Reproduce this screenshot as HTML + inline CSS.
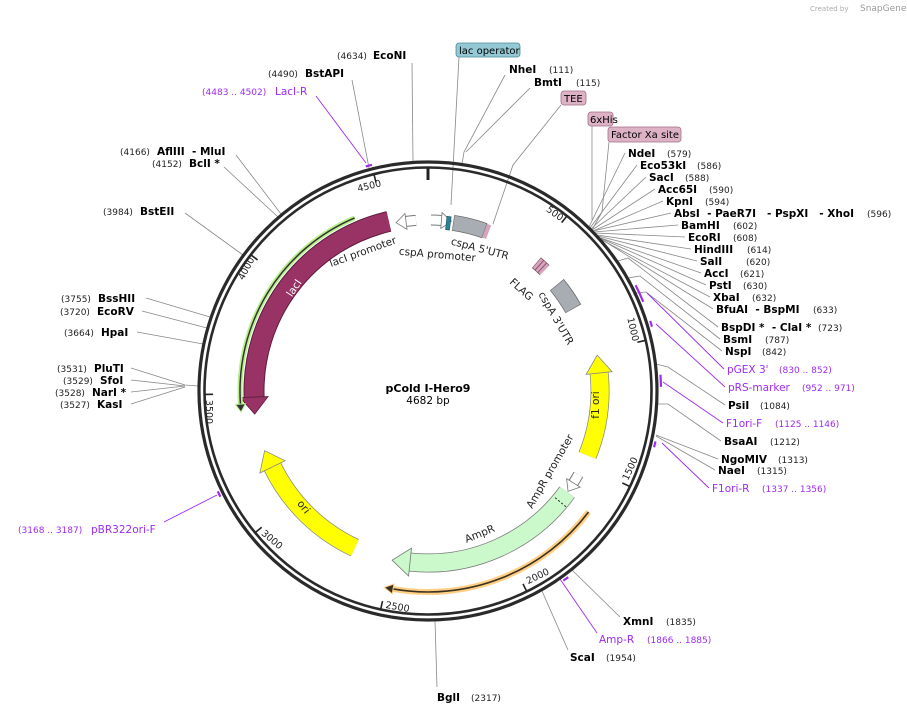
<!DOCTYPE html>
<html><head><meta charset="utf-8"><style>
html,body{margin:0;padding:0;background:#fff;}
svg{display:block;}
text{font-family:"DejaVu Sans","Liberation Sans",sans-serif;}
.n{font-size:10.5px;font-weight:bold;fill:#000;}
.p{font-size:9px;fill:#222;}
.pu{font-size:10.5px;fill:#9d2bf0;}
.pp{font-size:9px;fill:#9d2bf0;}
.l{stroke:#888;stroke-width:0.8;fill:none;}
.lp{stroke:#9d2bf0;stroke-width:0.9;fill:none;}
.f{font-size:10.5px;fill:#222;}
.t{font-size:9.5px;fill:#222;}
</style></head><body>
<svg width="907" height="714" viewBox="0 0 907 714" xmlns="http://www.w3.org/2000/svg">
<text x="810" y="11" style="font-size:7px;fill:#aaa">Created by</text>
<text x="860" y="11" style="font-size:9px;fill:#999">SnapGene</text>

<g class="l">
<polyline points="412,63 413,161"/>
<polyline points="352,80 369,168"/>
<polyline points="236,155 281,214"/>
<polyline points="224,167 278,217"/>
<polyline points="185,213 243,255"/>
<polyline points="146,298 210,317"/>
<polyline points="142,311 207,328"/>
<polyline points="137,332 203,344"/>
<polyline points="131,368 185,385 198,386"/>
<polyline points="131,380 185,386"/>
<polyline points="131,392 185,386"/>
<polyline points="131,404 185,387"/>
<polyline points="459,57 451,205"/>
<polyline points="505,75 464,152 462,164"/>
<polyline points="530,88 466,152"/>
<polyline points="561,105 513,165 493,224"/>
<polyline points="592,126 592,220"/>
<polyline points="609,142 602,212 592,230"/>
<polyline points="625,153 589,227"/>
<polyline points="637,165 590,228"/>
<polyline points="646,177 591,229"/>
<polyline points="655,189 592,230"/>
<polyline points="663,201 593,231"/>
<polyline points="671,213 593,231"/>
<polyline points="678,225 594,232"/>
<polyline points="685,237 595,233"/>
<polyline points="691,249 597,235"/>
<polyline points="697,261 598,236"/>
<polyline points="701,273 598,237"/>
<polyline points="706,285 600,238"/>
<polyline points="710,297 600,239"/>
<polyline points="713,309 601,239"/>
<polyline points="718,327 628,258 618,261"/>
<polyline points="720,339 640,276 628,278"/>
<polyline points="722,351 646,292 636,293"/>
<polyline points="725,405 668,367 656,364"/>
<polyline points="721,441 668,404 658,404"/>
<polyline points="718,459 656,435"/>
<polyline points="715,470 656,436"/>
<polyline points="620,617 572,570"/>
<polyline points="568,650 542,591"/>
<polyline points="437,687 435,621"/>
</g>
<g class="lp">
<polyline points="316,96 366,163"/>
<polyline points="724,369 647,293"/>
<polyline points="725,387 656,324"/>
<polyline points="723,423 663,382"/>
<polyline points="709,488 662,443"/>
<polyline points="597,633 560,579"/>
<polyline points="164,522 217,495"/>
</g>

<circle cx="428" cy="391" r="229" fill="none" stroke="#2a2a2a" stroke-width="3.2"/>
<circle cx="428" cy="391" r="223.5" fill="none" stroke="#2a2a2a" stroke-width="2.6"/>
<line x1="428" y1="168" x2="428" y2="180" stroke="#222" stroke-width="3"/>
<g stroke="#222" stroke-width="1.6">
<line x1="428" y1="168" x2="428" y2="176" transform="rotate(38.44 428 391)"/>
<line x1="428" y1="168" x2="428" y2="176" transform="rotate(76.89 428 391)"/>
<line x1="428" y1="168" x2="428" y2="176" transform="rotate(115.33 428 391)"/>
<line x1="428" y1="168" x2="428" y2="176" transform="rotate(153.78 428 391)"/>
<line x1="428" y1="168" x2="428" y2="176" transform="rotate(192.22 428 391)"/>
<line x1="428" y1="168" x2="428" y2="176" transform="rotate(230.67 428 391)"/>
<line x1="428" y1="168" x2="428" y2="176" transform="rotate(269.11 428 391)"/>
<line x1="428" y1="168" x2="428" y2="176" transform="rotate(307.56 428 391)"/>
<line x1="428" y1="168" x2="428" y2="176" transform="rotate(346 428 391)"/>
</g>
<g class="t" text-anchor="middle">
<text transform="translate(553,216) rotate(36)">500</text>
<text transform="translate(630,330) rotate(77)">1000</text>
<text transform="translate(633,470) rotate(-65)">1500</text>
<text transform="translate(539,579) rotate(-26)">2000</text>
<text transform="translate(397,610) rotate(10)">2500</text>
<text transform="translate(270,542) rotate(40)">3000</text>
<text transform="translate(206,412) rotate(90)">3500</text>
<text transform="translate(249,270) rotate(-62)">4000</text>
<text transform="translate(370,189) rotate(-14)">4500</text>
</g>

<g fill="none" stroke="#9d2bf0" stroke-width="2.2">
<circle cx="428" cy="391" r="233" pathLength="360" stroke-dasharray="1.6 400" transform="rotate(254.5 428 391)"/>
<circle cx="428" cy="391" r="233" pathLength="360" stroke-dasharray="4.5 400" transform="rotate(-27 428 391)"/>
<circle cx="428" cy="391" r="233" pathLength="360" stroke-dasharray="1.5 400" transform="rotate(-17.5 428 391)"/>
<circle cx="428" cy="391" r="233" pathLength="360" stroke-dasharray="3 400" transform="rotate(-4 428 391)"/>
<circle cx="428" cy="391" r="233" pathLength="360" stroke-dasharray="1.5 400" transform="rotate(12.5 428 391)"/>
<circle cx="428" cy="391" r="233" pathLength="360" stroke-dasharray="1.5 400" transform="rotate(53 428 391)"/>
<circle cx="428" cy="391" r="233" pathLength="360" stroke-dasharray="1.5 400" transform="rotate(153 428 391)"/>
</g>

<circle cx="428" cy="391" r="174" fill="none" stroke="#5a1c3a" stroke-width="21" pathLength="360" stroke-dasharray="79 400" transform="rotate(178 428 391)"/>
<circle cx="428" cy="391" r="174" fill="none" stroke="#993366" stroke-width="19" pathLength="360" stroke-dasharray="79 400" transform="rotate(178 428 391)"/>
<polygon points="428,203 411,217 428,231" fill="#993366" stroke="#5a1c3a" stroke-width="0.8" transform="rotate(268 428 391)"/>
<text transform="translate(297,290) rotate(-56)" text-anchor="middle" style="font-size:10.5px;fill:#fff">lacI</text>

<circle cx="428" cy="391" r="188" fill="none" stroke="#b8f08c" stroke-width="5" pathLength="360" stroke-dasharray="71 400" transform="rotate(176 428 391)"/>
<circle cx="428" cy="391" r="188" fill="none" stroke="#333" stroke-width="1.5" pathLength="360" stroke-dasharray="71 400" transform="rotate(176 428 391)"/>
<polygon points="428,198 420,203 428,208" fill="#333" stroke="#b8f08c" stroke-width="1" transform="rotate(266 428 391)"/>

<circle cx="428" cy="391" r="201" fill="none" stroke="#ffcf85" stroke-width="6" pathLength="360" stroke-dasharray="63 400" transform="rotate(37 428 391)"/>
<circle cx="428" cy="391" r="201" fill="none" stroke="#3a3020" stroke-width="1.6" pathLength="360" stroke-dasharray="63 400" transform="rotate(37 428 391)"/>
<polygon points="428,185 437,190 428,195" fill="#3a3020" stroke="#ffcf85" stroke-width="1" transform="rotate(190 428 391)"/>

<circle cx="428" cy="391" r="172" fill="none" stroke="#888" stroke-width="19" pathLength="360" stroke-dasharray="28 400" transform="rotate(-6 428 391)"/>
<circle cx="428" cy="391" r="172" fill="none" stroke="#ffff00" stroke-width="17.5" pathLength="360" stroke-dasharray="28 400" transform="rotate(-6 428 391)"/>
<polygon points="428,206 410,219 428,232" fill="#ffff00" stroke="#888" stroke-width="0.8" transform="rotate(84 428 391)"/>
<text transform="translate(599,405) rotate(-90)" text-anchor="middle" class="f">f1 ori</text>

<circle cx="428" cy="391" r="173" fill="none" stroke="#888" stroke-width="19" pathLength="360" stroke-dasharray="39 400" transform="rotate(115 428 391)"/>
<circle cx="428" cy="391" r="173" fill="none" stroke="#ffff00" stroke-width="17.5" pathLength="360" stroke-dasharray="39 400" transform="rotate(115 428 391)"/>
<polygon points="428,204 446,218 428,232" fill="#ffff00" stroke="#888" stroke-width="0.8" transform="rotate(244 428 391)"/>
<text transform="translate(301,509) rotate(52)" text-anchor="middle" class="f">ori</text>

<circle cx="428" cy="391" r="172" fill="none" stroke="#777" stroke-width="19" pathLength="360" stroke-dasharray="60 400" transform="rotate(36 428 391)"/>
<circle cx="428" cy="391" r="172" fill="none" stroke="#ccf9cc" stroke-width="17.5" pathLength="360" stroke-dasharray="60 400" transform="rotate(36 428 391)"/>
<polygon points="428,205 446,219 428,233" fill="#ccf9cc" stroke="#777" stroke-width="0.8" transform="rotate(186 428 391)"/>
<line x1="428" y1="211" x2="428" y2="227" stroke="#222" stroke-width="1" stroke-dasharray="2 2" transform="rotate(130 428 391)"/>
<text transform="translate(481,537) rotate(-22)" text-anchor="middle" class="f">AmpR</text>

<g>
<circle cx="428" cy="391" r="171" fill="none" stroke="#777" stroke-width="11" pathLength="360" stroke-dasharray="3.6 400" transform="rotate(262.4 428 391)"/>
<circle cx="428" cy="391" r="171" fill="none" stroke="#fff" stroke-width="9" pathLength="360" stroke-dasharray="3.6 400" transform="rotate(262.4 428 391)"/>
<polygon points="428,212 418,220 428,228" fill="#fff" stroke="#777" stroke-width="0.8" transform="rotate(352.6 428 391)"/>
<circle cx="428" cy="391" r="171" fill="none" stroke="#777" stroke-width="11" pathLength="360" stroke-dasharray="3.6 400" transform="rotate(-89 428 391)"/>
<circle cx="428" cy="391" r="171" fill="none" stroke="#fff" stroke-width="9" pathLength="360" stroke-dasharray="3.6 400" transform="rotate(-89 428 391)"/>
<polygon points="428,212 438,220 428,228" fill="#fff" stroke="#777" stroke-width="0.8" transform="rotate(4.5 428 391)"/>
<circle cx="428" cy="391" r="172" fill="none" stroke="#777" stroke-width="11" pathLength="360" stroke-dasharray="3.4 400" transform="rotate(29 428 391)"/>
<circle cx="428" cy="391" r="172" fill="none" stroke="#fff" stroke-width="9" pathLength="360" stroke-dasharray="3.4 400" transform="rotate(29 428 391)"/>
<polygon points="428,211 438,219 428,227" fill="#fff" stroke="#777" stroke-width="0.8" transform="rotate(122.3 428 391)"/>
</g>

<circle cx="428" cy="391" r="169" fill="none" stroke="#1d5560" stroke-width="14" pathLength="360" stroke-dasharray="1.6 400" transform="rotate(-83.9 428 391)"/>
<circle cx="428" cy="391" r="169" fill="none" stroke="#2a8297" stroke-width="12.5" pathLength="360" stroke-dasharray="1.2 400" transform="rotate(-83.7 428 391)"/>
<circle cx="428" cy="391" r="170" fill="none" stroke="#666" stroke-width="16" pathLength="360" stroke-dasharray="11 400" transform="rotate(-81.5 428 391)"/>
<circle cx="428" cy="391" r="170" fill="none" stroke="#a8adb3" stroke-width="14.5" pathLength="360" stroke-dasharray="10.6 400" transform="rotate(-81.3 428 391)"/>
<circle cx="428" cy="391" r="170" fill="none" stroke="#d9a3bc" stroke-width="14.5" pathLength="360" stroke-dasharray="1.4 400" transform="rotate(-70.5 428 391)"/>
<circle cx="428" cy="391" r="168" fill="none" stroke="#7a5066" stroke-width="14" pathLength="360" stroke-dasharray="3.8 400" transform="rotate(-49.8 428 391)"/>
<circle cx="428" cy="391" r="168" fill="none" stroke="#d9a3bc" stroke-width="12.5" pathLength="360" stroke-dasharray="1 0.3 1 0.3 1 400" transform="rotate(-49.6 428 391)"/>
<circle cx="428" cy="391" r="167" fill="none" stroke="#666" stroke-width="18" pathLength="360" stroke-dasharray="10 400" transform="rotate(-39.5 428 391)"/>
<circle cx="428" cy="391" r="167" fill="none" stroke="#a8adb3" stroke-width="16.5" pathLength="360" stroke-dasharray="9.6 400" transform="rotate(-39.3 428 391)"/>

<g class="f" text-anchor="middle">
<text transform="translate(364,255) rotate(-20)">lacI promoter</text>
<text transform="translate(437,258) rotate(5)">cspA promoter</text>
<text transform="translate(479,252) rotate(15)">cspA 5'UTR</text>
<text transform="translate(519,292) rotate(42)">FLAG</text>
<text transform="translate(553,320) rotate(60)">cspA 3'UTR</text>
<text transform="translate(553,473) rotate(-60)">AmpR promoter</text>
</g>

<text x="428" y="392" text-anchor="middle" style="font-size:11px;font-weight:bold">pCold I-Hero9</text>
<text x="428" y="404" text-anchor="middle" style="font-size:10.5px">4682 bp</text>

<rect x="456" y="43" width="64" height="14" rx="3" fill="#93c8d4" stroke="#4a8a98" stroke-width="0.8"/>
<text x="459" y="54" style="font-size:10px">lac operator</text>
<rect x="561" y="91" width="25" height="14" rx="3" fill="#ddb2c5" stroke="#a07088" stroke-width="0.8"/>
<text x="564" y="102" style="font-size:10px">TEE</text>
<rect x="588" y="112" width="25" height="14" rx="3" fill="#ddb2c5" stroke="#a07088" stroke-width="0.8"/>
<text x="590" y="123" style="font-size:10px">6xHis</text>
<rect x="608" y="127" width="73" height="15" rx="3" fill="#ddb2c5" stroke="#a07088" stroke-width="0.8"/>
<text x="611" y="138" style="font-size:10px">Factor Xa site</text>

<text x="337" y="59" class="p">(4634)</text><text x="373" y="59" class="n">EcoNI</text>
<text x="268" y="77" class="p">(4490)</text><text x="305" y="77" class="n">BstAPI</text>
<text x="202" y="95" class="pp">(4483 .. 4502)</text><text x="275" y="95" class="pu">LacI-R</text>
<text x="120" y="155" class="p">(4166)</text><text x="157" y="155" class="n">AflIII&#160; - MluI</text>
<text x="152" y="167" class="p">(4152)</text><text x="189" y="167" class="n">BclI *</text>
<text x="103" y="215" class="p">(3984)</text><text x="140" y="215" class="n">BstEII</text>
<text x="61" y="302" class="p">(3755)</text><text x="98" y="302" class="n">BssHII</text>
<text x="60" y="315" class="p">(3720)</text><text x="97" y="315" class="n">EcoRV</text>
<text x="64" y="336" class="p">(3664)</text><text x="101" y="336" class="n">HpaI</text>
<text x="57" y="372" class="p">(3531)</text><text x="94" y="372" class="n">PluTI</text>
<text x="63" y="384" class="p">(3529)</text><text x="100" y="384" class="n">SfoI</text>
<text x="55" y="396" class="p">(3528)</text><text x="92" y="396" class="n">NarI *</text>
<text x="60" y="408" class="p">(3527)</text><text x="97" y="408" class="n">KasI</text>
<text x="18" y="533" class="pp">(3168 .. 3187)</text><text x="91" y="533" class="pu">pBR322ori-F</text>

<text x="509" y="73" class="n">NheI</text><text x="549" y="73" class="p">(111)</text>
<text x="534" y="86" class="n">BmtI</text><text x="576" y="86" class="p">(115)</text>

<text x="628" y="157" class="n">NdeI</text><text x="667" y="157" class="p">(579)</text>
<text x="640" y="169" class="n">Eco53kI</text><text x="697" y="169" class="p">(586)</text>
<text x="649" y="181" class="n">SacI</text><text x="685" y="181" class="p">(588)</text>
<text x="658" y="193" class="n">Acc65I</text><text x="709" y="193" class="p">(590)</text>
<text x="666" y="205" class="n">KpnI</text><text x="705" y="205" class="p">(594)</text>
<text x="674" y="217" class="n">AbsI&#160; - PaeR7I&#160;&#160; - PspXI&#160;&#160; - XhoI</text><text x="867" y="217" class="p">(596)</text>
<text x="681" y="229" class="n">BamHI</text><text x="733" y="229" class="p">(602)</text>
<text x="688" y="241" class="n">EcoRI</text><text x="733" y="241" class="p">(608)</text>
<text x="694" y="253" class="n">HindIII</text><text x="747" y="253" class="p">(614)</text>
<text x="700" y="265" class="n">SalI</text><text x="746" y="265" class="p">(620)</text>
<text x="704" y="277" class="n">AccI</text><text x="740" y="277" class="p">(621)</text>
<text x="709" y="289" class="n">PstI</text><text x="743" y="289" class="p">(630)</text>
<text x="713" y="301" class="n">XbaI</text><text x="752" y="301" class="p">(632)</text>
<text x="716" y="313" class="n">BfuAI&#160; - BspMI</text><text x="813" y="313" class="p">(633)</text>
<text x="721" y="331" class="n">BspDI *&#160; - ClaI *</text><text x="818" y="331" class="p">(723)</text>
<text x="723" y="343" class="n">BsmI</text><text x="765" y="343" class="p">(787)</text>
<text x="725" y="355" class="n">NspI</text><text x="762" y="355" class="p">(842)</text>
<text x="727" y="373" class="pu">pGEX 3'</text><text x="779" y="373" class="pp">(830 .. 852)</text>
<text x="728" y="391" class="pu">pRS-marker</text><text x="802" y="391" class="pp">(952 .. 971)</text>
<text x="728" y="409" class="n">PsiI</text><text x="760" y="409" class="p">(1084)</text>
<text x="726" y="427" class="pu">F1ori-F</text><text x="775" y="427" class="pp">(1125 .. 1146)</text>
<text x="724" y="445" class="n">BsaAI</text><text x="770" y="445" class="p">(1212)</text>
<text x="721" y="463" class="n">NgoMIV</text><text x="778" y="463" class="p">(1313)</text>
<text x="718" y="474" class="n">NaeI</text><text x="757" y="474" class="p">(1315)</text>
<text x="712" y="492" class="pu">F1ori-R</text><text x="762" y="492" class="pp">(1337 .. 1356)</text>

<text x="623" y="625" class="n">XmnI</text><text x="666" y="625" class="p">(1835)</text>
<text x="599" y="643" class="pu">Amp-R</text><text x="647" y="643" class="pp">(1866 .. 1885)</text>
<text x="570" y="661" class="n">ScaI</text><text x="606" y="661" class="p">(1954)</text>
<text x="437" y="701" class="n">BglI</text><text x="471" y="701" class="p">(2317)</text>
</svg>
</body></html>
